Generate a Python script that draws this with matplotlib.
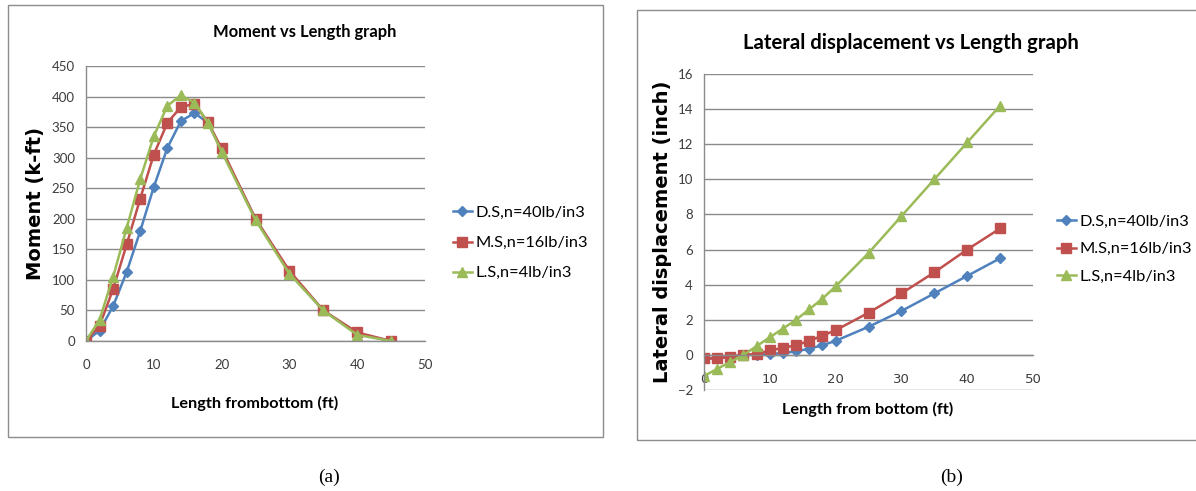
import matplotlib.pyplot as plt
from matplotlib.patches import Rectangle

# === data
length = [0, 2, 4, 6, 8, 10, 12, 14, 16, 18, 20, 25, 30, 35, 40, 45]

moment_ds = [0, 17, 57, 113, 180, 252, 316, 360, 373, 357, 312, 200, 112, 50, 12, 0]
moment_ms = [0, 25, 85, 158, 233, 305, 357, 383, 388, 358, 315, 200, 115, 50, 14, 0]
moment_ls = [0, 35, 105, 185, 265, 335, 385, 402, 390, 357, 310, 198, 110, 50, 10, 0]

disp_ds = [-0.2, -0.2, -0.1, 0, 0, 0.05, 0.1, 0.2, 0.35, 0.55, 0.8, 1.6, 2.5, 3.5, 4.5, 5.5]
disp_ms = [-0.2, -0.2, -0.1, 0, 0.05, 0.25, 0.4, 0.55, 0.8, 1.1, 1.4, 2.4, 3.5, 4.7, 6.0, 7.2]
disp_ls = [-1.2, -0.8, -0.4, 0, 0.5, 1.0, 1.5, 2.0, 2.6, 3.2, 3.9, 5.8, 7.9, 10.0, 12.1, 14.2]

labels = ['D.S,n=40lb/in3', 'M.S,n=16lb/in3', 'L.S,n=4lb/in3']
colors = ['#4F81BD', '#C0504D', '#9BBB59']
markers = ['D', 's', '^']
msizes = [5, 6.5, 6.5]

W, H = 1196, 491
fig = plt.figure(figsize=(W / 100, H / 100), dpi=100)
fig.patch.set_facecolor('white')


def fx(px):
    return px / W


def fy(py):
    return 1 - py / H


def box(x0, y0, x1, y1):
    # axes rect from pixel corners (top-left origin)
    return [fx(x0), fy(y1), (x1 - x0) / W, (y1 - y0) / H]


# panel frames
fig.add_artist(Rectangle((fx(8), fy(437)), (603 - 8) / W, (437 - 5) / H, transform=fig.transFigure,
                         fill=False, edgecolor='#8c8c8c', lw=1.0))
fig.add_artist(Rectangle((fx(637), fy(440)), (1210 - 637) / W, (440 - 10) / H, transform=fig.transFigure,
                         fill=False, edgecolor='#8c8c8c', lw=1.0))


def style_axes(ax, xpad):
    ax.grid(axis='y', color='#8a8a8a', lw=1.0)
    ax.set_axisbelow(True)
    for s in ['top', 'right']:
        ax.spines[s].set_visible(False)
    for s in ['left', 'bottom']:
        ax.spines[s].set_color('#8a8a8a')
        ax.spines[s].set_linewidth(1.0)
    ax.tick_params(labelsize=9.5, labelcolor='#3c3c3c', length=0)
    ax.tick_params(axis='y', pad=8)
    ax.tick_params(axis='x', pad=xpad)
    for t in ax.get_xticklabels() + ax.get_yticklabels():
        t.set_family('Lato')


leg_kw = dict(loc='center left', bbox_transform=fig.transFigure, frameon=False,
              prop={'family': 'Lato', 'size': 11.8}, handlelength=1.2,
              handletextpad=0.2, borderaxespad=0)

# === (a) Moment vs Length
ax1 = fig.add_axes(box(86, 66, 425, 341))
for ys, c, m, ms, lab in zip([moment_ds, moment_ms, moment_ls], colors, markers, msizes, labels):
    ax1.plot(length, ys, color=c, marker=m, markersize=ms, lw=1.8, label=lab)
ax1.set_xlim(0, 50)
ax1.set_ylim(0, 450)
ax1.set_xticks(range(0, 51, 10))
ax1.set_yticks(range(0, 451, 50))
style_axes(ax1, 13)
fig.text(fx(305), fy(32), 'Moment vs Length graph', ha='center', va='center',
         fontsize=11.9, fontweight='bold', family='Lato')
fig.text(fx(36), fy(203), 'Moment (k-ft)', ha='center', va='center', rotation=90,
         fontsize=14, fontweight='bold', family='DejaVu Sans')
fig.text(fx(255), fy(403), 'Length frombottom (ft)', ha='center', va='center',
         fontsize=11.7, fontweight='bold', family='Lato')
ax1.legend(bbox_to_anchor=(fx(446), fy(243)), labelspacing=0.95, **leg_kw)

# === (b) Lateral displacement vs Length
ax2 = fig.add_axes(box(704, 74, 1033, 390))
for ys, c, m, ms, lab in zip([disp_ds, disp_ms, disp_ls], colors, markers, msizes, labels):
    ax2.plot(length, ys, color=c, marker=m, markersize=ms, lw=1.8, label=lab)
ax2.set_xlim(0, 50)
ax2.set_ylim(-2, 16)
ax2.set_xticks(range(0, 51, 10))
ax2.set_yticks(range(-2, 17, 2))
style_axes(ax2, 13)
ax2.spines['bottom'].set_position(('data', 0))
fig.text(fx(911), fy(43), 'Lateral displacement vs Length graph', ha='center', va='center',
         fontsize=14.6, fontweight='bold', family='Lato')
fig.text(fx(662), fy(232), 'Lateral displacement (inch)', ha='center', va='center', rotation=90,
         fontsize=14, fontweight='bold', family='DejaVu Sans')
fig.text(fx(868), fy(409), 'Length from bottom (ft)', ha='center', va='center',
         fontsize=11.7, fontweight='bold', family='Lato')
ax2.legend(bbox_to_anchor=(fx(1050), fy(249)), labelspacing=0.8, **leg_kw)

# captions
fig.text(fx(329), fy(477), '(a)', ha='center', va='center', fontsize=14, family='Liberation Serif')
fig.text(fx(952), fy(477), '(b)', ha='center', va='center', fontsize=14, family='Liberation Serif')

fig.savefig('out.png', dpi=100, facecolor='white')
